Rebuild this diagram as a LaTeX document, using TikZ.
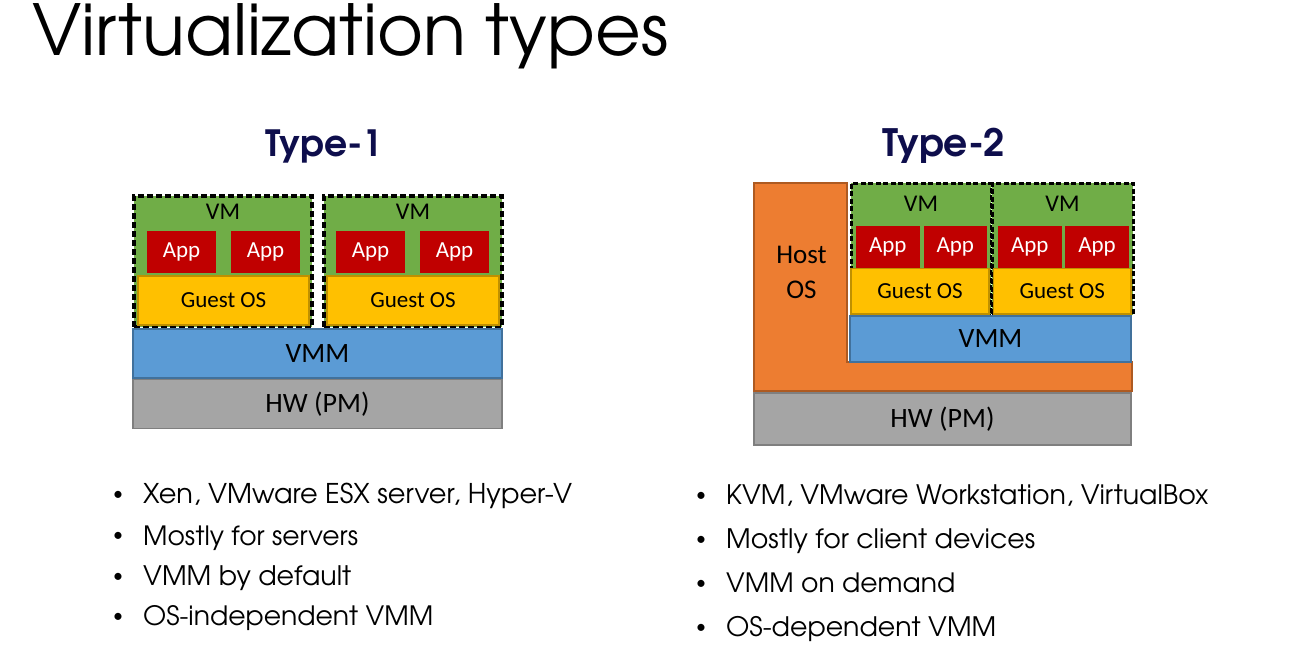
\documentclass[tikz,border=0pt]{standalone}
\usepackage{fontspec}
\setmainfont{Carlito}
\newfontfamily\gothic{texgyreadventor-regular.otf}[BoldFont=texgyreadventor-bold.otf]
\usepackage{graphicx}
\definecolor{vmgreen}{HTML}{70AD47}
\definecolor{appred}{HTML}{C00000}
\definecolor{osgold}{HTML}{FFC000}
\definecolor{osgoldline}{HTML}{BF9000}
\definecolor{vmmblue}{HTML}{5B9BD5}
\definecolor{vmmline}{HTML}{41719C}
\definecolor{hwgray}{HTML}{A5A5A5}
\definecolor{hwline}{HTML}{7F7F7F}
\definecolor{hostorange}{HTML}{ED7D31}
\definecolor{hostline}{HTML}{AE5A21}
\definecolor{navy}{RGB}{14,14,76}
\tikzset{
  layer/.style={inner sep=0pt, outer sep=0pt, line width=1.2pt, font=\fontsize{28}{30}\selectfont},
  vmbox/.style={fill=vmgreen, draw=black, inner sep=0pt, outer sep=0pt},
  vmone/.style={vmbox, line width=4pt, dash pattern=on 6pt off 3pt},
  vmtwo/.style={vmbox, line width=3pt, dash pattern=on 5pt off 2.5pt},
  vmlabel/.style={font=\fontsize{24}{26}\selectfont, inner sep=0pt},
  appbox/.style={fill=appred, text=white, inner sep=0pt, font=\fontsize{23}{25}\selectfont},
  guestbox/.style={layer, fill=osgold, draw=osgoldline, font=\fontsize{23}{25}\selectfont},
  vmmbox/.style={layer, fill=vmmblue, draw=vmmline},
  hwbox/.style={layer, fill=hwgray, draw=hwline},
  typetitle/.style={text=navy, inner sep=0pt, font=\gothic\bfseries},
  bul/.style={inner sep=0pt, font=\fontsize{20}{22}\selectfont},
  item/.style={anchor=base west, inner sep=0pt, font=\gothic},
}
\begin{document}
\begin{tikzpicture}[x=1pt, y=-1pt]
\useasboundingbox[fill=white] (0,0) rectangle (1307,656);

% page heading
\node[anchor=base west, inner sep=0pt] (heading) at (32,55)
  {\resizebox{636pt}{!}{\gothic Virtualization types}};

% ---------------- Type-1 ----------------
\node[typetitle] (t1) at (324.5,146) {\resizebox{117pt}{!}{Type-1}};

\node[vmone, minimum width=178, minimum height=131] (vm1a) at (223,261.5) {};
\node[vmone, minimum width=178, minimum height=131] (vm1b) at (413,261.5) {};
\node[vmlabel] (vm1al) at (223,212) {VM};
\node[vmlabel] (vm1bl) at (413,212) {VM};

\node[appbox, minimum width=69, minimum height=42] (a1a) at (181.5,252) {App};
\node[appbox, minimum width=69, minimum height=42] (a1b) at (265.5,252) {App};
\node[appbox, minimum width=69, minimum height=42] (a1c) at (370.5,252) {App};
\node[appbox, minimum width=69, minimum height=42] (a1d) at (454.5,252) {App};

\node[guestbox, minimum width=171, minimum height=49] (g1a) at (223.5,300.5) {Guest OS};
\node[guestbox, minimum width=172, minimum height=49] (g1b) at (413,300.5) {Guest OS};

\node[vmmbox, minimum width=369, minimum height=49] (vmm1) at (317.5,353.5) {VMM};
\node[hwbox, minimum width=369, minimum height=49] (hw1) at (317.5,404) {HW (PM)};

% ---------------- Type-2 ----------------
\node[typetitle] (t2) at (944,146) {\resizebox{122pt}{!}{Type-2}};

\draw[fill=hostorange, draw=hostline, line width=1.2pt]
  (754,183) -- (847,183) -- (847,362) -- (1132,362) -- (1132,391) -- (754,391) -- cycle;
\node[align=center, inner sep=0pt, font=\fontsize{27}{35}\selectfont] (host) at (801.5,272) {Host\\OS};

\node[vmtwo, minimum width=140, minimum height=132] (vm2a) at (921,249) {};
\node[vmtwo, minimum width=141, minimum height=132] (vm2b) at (1062.5,249) {};
\node[vmlabel] (vm2al) at (921,203.5) {VM};
\node[vmlabel] (vm2bl) at (1062.5,203.5) {VM};

\node[appbox, minimum width=64.5, minimum height=41.5] (a2a) at (887.75,246.75) {App};
\node[appbox, minimum width=63.5, minimum height=41.5] (a2b) at (955.25,246.75) {App};
\node[appbox, minimum width=64.5, minimum height=41.5] (a2c) at (1029.75,246.75) {App};
\node[appbox, minimum width=64, minimum height=41.5] (a2d) at (1097,246.75) {App};

\node[guestbox, minimum width=138, minimum height=45.5] (g2a) at (920,291.25) {Guest OS};
\node[guestbox, minimum width=137.5, minimum height=45.5] (g2b) at (1062.25,291.25) {Guest OS};

\node[vmmbox, minimum width=281, minimum height=46] (vmm2) at (990.5,339) {VMM};
\node[hwbox, minimum width=377, minimum height=52] (hw2) at (942.5,419) {HW (PM)};

% ---------------- bullet lists ----------------
\node[bul] (b1) at (118,496) {\textbullet};
\node[bul] (b2) at (118,537) {\textbullet};
\node[bul] (b3) at (118,578) {\textbullet};
\node[bul] (b4) at (118,618) {\textbullet};
\node[item] (l1) at (143,503) {\resizebox{429pt}{!}{\gothic Xen, VMware ESX server, Hyper-V}};
\node[item] (l2) at (143,545) {\resizebox{215pt}{!}{\gothic Mostly for servers}};
\node[item] (l3) at (143,585) {\resizebox{208pt}{!}{\gothic VMM by default}};
\node[item] (l4) at (143,625) {\resizebox{290pt}{!}{\gothic OS-independent VMM}};

\node[bul] (c1) at (701,497) {\textbullet};
\node[bul] (c2) at (701,541) {\textbullet};
\node[bul] (c3) at (701,585) {\textbullet};
\node[bul] (c4) at (701,629) {\textbullet};
\node[item] (r1) at (726,504) {\resizebox{482pt}{!}{\gothic KVM, VMware Workstation, VirtualBox}};
\node[item] (r2) at (726,548) {\resizebox{309pt}{!}{\gothic Mostly for client devices}};
\node[item] (r3) at (726,592) {\resizebox{229pt}{!}{\gothic VMM on demand}};
\node[item] (r4) at (726,636) {\resizebox{270pt}{!}{\gothic OS-dependent VMM}};
\end{tikzpicture}
\end{document}
